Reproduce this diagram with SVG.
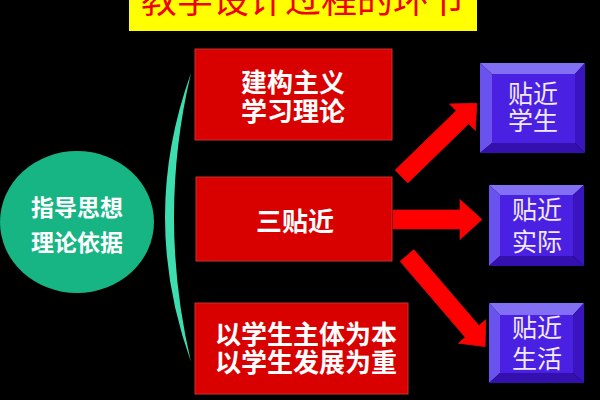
<svg xmlns="http://www.w3.org/2000/svg" width="600" height="400" viewBox="0 0 600 400">
<defs>
<style>
.bg{fill:#000}
.ttl{font-family:"Noto Sans CJK SC","Liberation Sans",sans-serif;font-size:36px;fill:#F00000;text-anchor:middle}
.rbox{fill:#D90000;stroke:#C83030;stroke-width:1}
.wt{font-family:"Noto Sans CJK SC","Liberation Sans",sans-serif;font-weight:bold;fill:#fff;text-anchor:middle}
.pt{font-family:"Noto Sans CJK SC","Liberation Sans",sans-serif;font-size:25px;fill:#F2EAFF;text-anchor:middle}
.bt{fill:#8270F4}
.bl{fill:#6A52EE}
.br{fill:#3A14BE}
.bb{fill:#3410AE}
.bf{fill:#4A20E2}
.arr{fill:#FF0000;stroke:#D01010;stroke-width:0.8}
</style>
</defs>
<rect class="bg" x="0" y="0" width="600" height="400"/>
<g id="title">
<rect x="129" y="-5" width="348" height="36" fill="#FFFF00"/>
<text class="ttl" x="303" y="13">教学设计过程的环节</text>
</g>
<g id="root">
<ellipse cx="77" cy="222" rx="77" ry="71" fill="#17B584"/>
<text class="wt" x="77" y="216" font-size="23">指导思想</text>
<text class="wt" x="77" y="251" font-size="23">理论依据</text>
</g>
<g id="bracket">
<path d="M191,73 Q139,217 191,362 Q157,217 191,73 Z" fill="#3EDDB0"/>
</g>
<g id="n1">
<rect class="rbox" x="195" y="49" width="197" height="91"/>
<text class="wt" x="293" y="92" font-size="26">建构主义</text>
<text class="wt" x="293" y="121" font-size="26">学习理论</text>
</g>
<g id="n2">
<rect class="rbox" x="196" y="177" width="196" height="84"/>
<text class="wt" x="295" y="231" font-size="26">三贴近</text>
</g>
<g id="n3">
<rect class="rbox" x="195" y="303" width="213" height="91"/>
<text class="wt" x="306" y="344" font-size="26">以学生主体为本</text>
<text class="wt" x="306" y="372" font-size="26">以学生发展为重</text>
</g>
<g id="connectors">
<polygon class="arr" transform="translate(401.5,176.5) rotate(-44.2)" points="0,-9 85,-9 85,-18.5 105,0 85,18.5 85,9 0,9"/>
<polygon class="arr" transform="translate(393,219.5)" points="0,-9.5 67,-9.5 67,-20 89,0 67,20 67,9.5 0,9.5"/>
<polygon class="arr" transform="translate(407,255.5) rotate(49.4)" points="0,-9 100,-9 100,-18 120,0 100,18 100,9 0,9"/>
</g>
<g id="a1">
<polygon class="bt" points="480,63 585,63 575,74 492,74"/>
<polygon class="bl" points="480,63 492,74 492,143 480,153"/>
<polygon class="br" points="585,63 585,153 575,143 575,74"/>
<polygon class="bb" points="480,153 585,153 575,143 492,143"/>
<rect class="bf" x="492" y="74" width="83" height="69"/>
<text class="pt" x="533" y="103">贴近</text>
<text class="pt" x="533" y="130">学生</text>
</g>
<g id="a2">
<polygon class="bt" points="489,185 584,185 573,195 500,195"/>
<polygon class="bl" points="489,185 500,195 500,256 489,266"/>
<polygon class="br" points="584,185 584,266 573,256 573,195"/>
<polygon class="bb" points="489,266 584,266 573,256 500,256"/>
<rect class="bf" x="500" y="195" width="73" height="61"/>
<text class="pt" x="537" y="219">贴近</text>
<text class="pt" x="537" y="251">实际</text>
</g>
<g id="a3">
<polygon class="bt" points="489,303 584,303 573,315 500,315"/>
<polygon class="bl" points="489,303 500,315 500,373 489,383"/>
<polygon class="br" points="584,303 584,383 573,373 573,315"/>
<polygon class="bb" points="489,383 584,383 573,373 500,373"/>
<rect class="bf" x="500" y="315" width="73" height="58"/>
<text class="pt" x="537" y="337">贴近</text>
<text class="pt" x="537" y="368">生活</text>
</g>
</svg>
